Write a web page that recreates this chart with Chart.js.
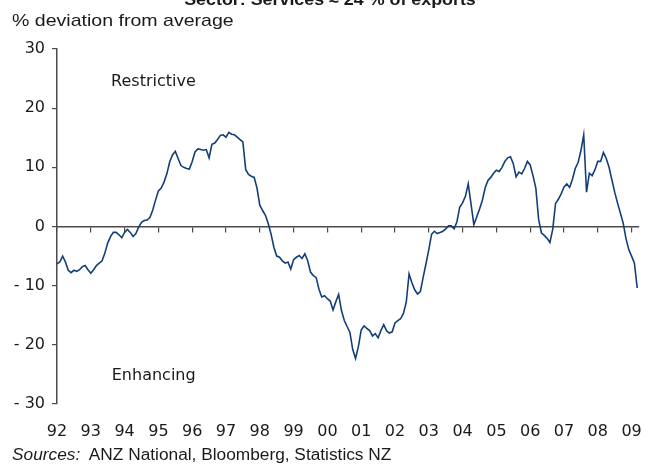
<!DOCTYPE html>
<html>
<head>
<meta charset="utf-8">
<script src="https://cdn.jsdelivr.net/npm/chart.js@4/dist/chart.umd.min.js"></script>
<style>
    body { margin: 0; background: #fff; }
    #wrap { position: relative; width: 660px; height: 465px; overflow: hidden; }
    .txt { position: absolute; font-family: "Liberation Sans", Arial, sans-serif; color: #1a1a1a; white-space: nowrap; line-height: 1; transform-origin: left center; }
    #title { top: -9px; left: 0; width: 660px; text-align: center; font-weight: bold; font-size: 17px; transform-origin: center center; transform: scaleX(1.05); }
    #unit { top: 12px; left: 12px; font-size: 17px; transform: scaleX(1.15); }
    #sources { top: 447px; left: 12px; font-size: 16px; transform: scaleX(1.08); }
</style>
</head>
<body>
<div id="wrap">
    <canvas id="serviceChart" width="660" height="465"></canvas>
    <div class="txt" id="title">Sector: Services ≈ 24 % of exports</div>
    <div class="txt" id="unit">% deviation from average</div>
    <div class="txt" id="sources"><i>Sources:</i>&nbsp; ANZ National, Bloomberg, Statistics NZ</div>
</div>
<script>
// monthly series, Jan 1992 - Mar 2009 (% deviation from average)
const startYear = 1992;
const values = [
    -6.3, -6.0, -5.0, -6.0, -7.4, -7.8, -7.4, -7.6, -7.3, -6.8, -6.6, -7.3,      // 92
    -7.9, -7.3, -6.6, -6.2, -5.8, -4.5, -2.8, -1.7, -1.0, -1.0, -1.4, -1.9,      // 93
    -1.0, -0.5, -1.0, -1.7, -1.2, -0.1, 0.7, 1.0, 1.1, 1.5, 2.8, 4.5,            // 94
    6.0, 6.5, 7.5, 8.9, 10.9, 12.1, 12.7, 11.5, 10.3, 10.0, 9.8, 9.7,            // 95
    11.0, 12.6, 13.1, 13.0, 12.9, 13.0, 11.6, 13.9, 14.1, 14.7, 15.4, 15.5,      // 96
    15.1, 15.9, 15.6, 15.5, 15.1, 14.7, 14.3, 9.6, 8.8, 8.5, 8.3, 6.5,           // 97
    3.6, 2.7, 1.9, 0.5, -1.3, -3.5, -5.0, -5.2, -5.8, -6.2, -6.0, -7.2,          // 98
    -5.6, -5.2, -4.9, -5.4, -4.6, -5.8, -7.7, -8.3, -8.6, -10.6, -11.9, -11.7,   // 99
    -12.2, -12.6, -14.1, -12.7, -11.5, -14.2, -15.9, -16.9, -17.9, -20.8, -22.3, -20.3, // 00
    -17.5, -16.8, -17.2, -17.6, -18.5, -18.1, -18.8, -17.6, -16.6, -17.6, -18.0, -17.8, // 01
    -16.3, -15.9, -15.6, -14.7, -12.8, -8.0, -9.5, -10.7, -11.4, -11.0, -8.6, -6.3,     // 02
    -3.9, -1.3, -0.8, -1.2, -1.0, -0.8, -0.4, 0.1, 0.1, -0.4, 0.8, 3.3,          // 03
    4.0, 5.1, 7.2, 3.8, 0.3, 1.6, 2.9, 4.4, 6.5, 7.8, 8.3, 9.0,                  // 04
    9.5, 9.3, 10.0, 11.0, 11.6, 11.8, 10.6, 8.4, 9.2, 8.9, 9.8, 11.0,            // 05
    10.4, 8.6, 6.5, 1.2, -1.1, -1.5, -2.0, -2.7, -0.5, 3.9, 4.6, 5.5,            // 06
    6.7, 7.2, 6.6, 8.0, 9.8, 10.8, 12.8, 15.5, 5.8, 9.0, 8.6, 9.6,               // 07
    11.0, 11.0, 12.5, 11.5, 10.0, 7.9, 5.8, 4.0, 2.3, 0.6, -2.0, -3.9,           // 08
    -5.0, -6.2, -10.4                                                            // 09
];
const yearTicks = [1992, 1993, 1994, 1995, 1996, 1997, 1998, 1999, 2000, 2001, 2002, 2003, 2004, 2005, 2006, 2007, 2008, 2009];
const yTicks = [-30, -20, -10, 0, 10, 20, 30];
const notes = [
    { text: 'Restrictive', x: 1993.6, y: 24.4 },
    { text: 'Enhancing', x: 1993.62, y: -25.2 }
];

const points = values.map((v, i) => ({ x: startYear + i / 12, y: v }));
const xMin = yearTicks[0];
const xMax = 2009.2;
const axisColor = '#4a4a4a';
const tickFont = { family: 'DejaVu Sans', size: 16 };

const notesPlugin = {
    id: 'notes',
    afterDraw(chart) {
        const c = chart.ctx;
        c.save();
        c.font = '16px "DejaVu Sans"';
        c.fillStyle = '#1a1a1a';
        c.textAlign = 'left';
        c.textBaseline = 'middle';
        notes.forEach(n => {
            c.fillText(n.text, chart.scales.x.getPixelForValue(n.x), chart.scales.y.getPixelForValue(n.y));
        });
        c.restore();
    }
};

const ctx = document.getElementById('serviceChart').getContext('2d');

const serviceChart = new Chart(ctx, {
    type: 'line',
    data: {
        datasets: [{
            data: points,
            borderColor: '#123f78',
            borderWidth: 1.6,
            pointRadius: 0,
            tension: 0,
            fill: false
        }]
    },
    options: {
        responsive: false,
        animation: false,
        layout: { padding: { top: 49, right: 20, left: 0, bottom: 0 } },
        plugins: {
            legend: { display: false },
            tooltip: { enabled: false }
        },
        scales: {
            x: {
                type: 'linear',
                position: { y: 0 },
                min: xMin,
                max: xMax,
                afterBuildTicks: function (scale) {
                    scale.ticks = yearTicks.map(v => ({ value: v }));
                },
                ticks: { display: false },
                grid: {
                    drawOnChartArea: false,
                    drawTicks: true,
                    tickLength: 5,
                    color: axisColor,
                    lineWidth: 1.2
                },
                border: { display: true, color: axisColor, width: 1.5 }
            },
            x2: {
                type: 'linear',
                position: 'bottom',
                min: xMin,
                max: xMax,
                afterBuildTicks: function (scale) {
                    scale.ticks = yearTicks.map(v => ({ value: v }));
                },
                afterFit: function (scale) {
                    scale.height = 61;
                },
                ticks: {
                    autoSkip: false,
                    maxRotation: 0,
                    padding: 18,
                    color: '#1a1a1a',
                    font: tickFont,
                    callback: function (value) {
                        return String(value % 100).padStart(2, '0');
                    }
                },
                grid: { display: false, drawTicks: false },
                border: { display: false }
            },
            y: {
                min: -30,
                max: 30,
                afterBuildTicks: function (scale) {
                    scale.ticks = yTicks.map(v => ({ value: v }));
                },
                afterFit: function (scale) {
                    scale.width = 57;
                },
                ticks: {
                    padding: 7,
                    color: '#1a1a1a',
                    font: tickFont,
                    callback: function (value) {
                        return value < 0 ? '- ' + Math.abs(value) : String(value);
                    }
                },
                grid: {
                    drawOnChartArea: false,
                    tickLength: 5,
                    color: axisColor,
                    lineWidth: 1.2
                },
                border: { display: true, color: axisColor, width: 1.5 }
            }
        }
    },
    plugins: [notesPlugin]
});
</script>
</body>
</html>
